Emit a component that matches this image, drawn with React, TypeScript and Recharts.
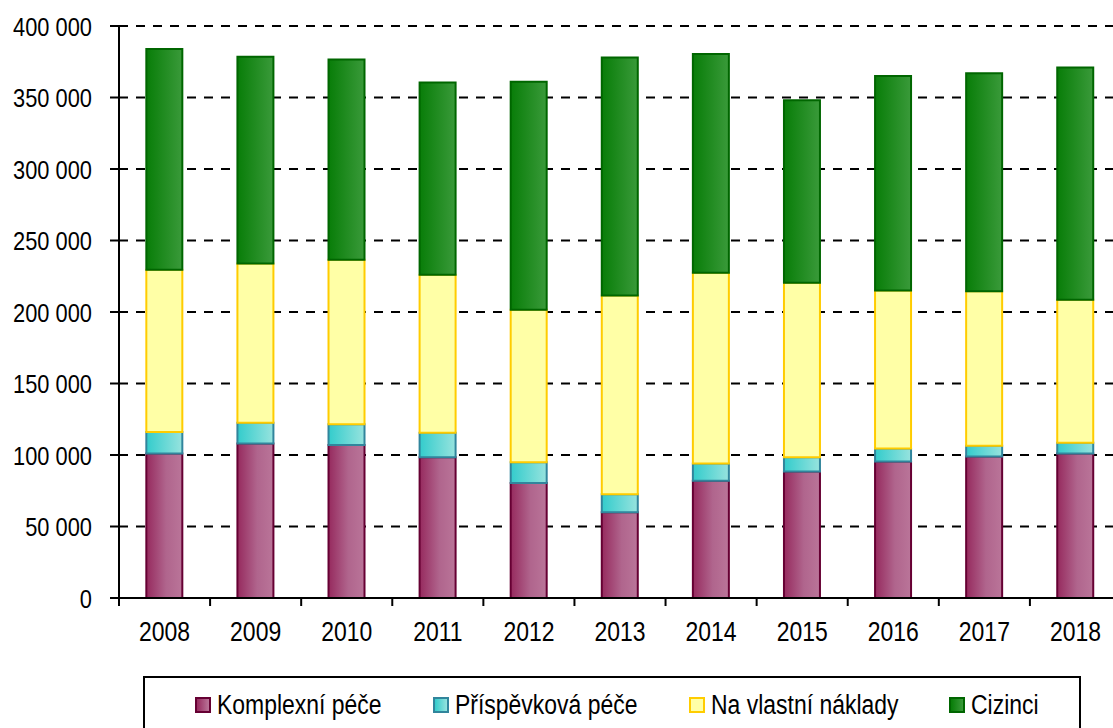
import { BarChart, Bar, XAxis, YAxis, CartesianGrid } from 'recharts';

const years = ['2008', '2009', '2010', '2011', '2012', '2013', '2014', '2015', '2016', '2017', '2018'];
const komplexni = [101000, 108000, 107000, 98500, 80500, 60000, 82000, 88500, 95500, 99000, 101000];
const prispevkova = [15000, 14500, 14500, 17000, 14500, 12500, 12000, 10000, 9000, 7500, 7500];
const vlastni = [113500, 111500, 115000, 110500, 106500, 139000, 133500, 122000, 110500, 108000, 100000];
const cizinci = [154500, 144500, 140000, 134500, 159500, 166500, 153000, 127500, 150000, 152500, 162500];
const yTicks = [0, 50000, 100000, 150000, 200000, 250000, 300000, 350000, 400000];

const data = years.map((year, i) => ({
  year,
  komplexni: komplexni[i],
  prispevkova: prispevkova[i],
  vlastni: vlastni[i],
  cizinci: cizinci[i],
}));

const series = [
  { key: 'komplexni', name: 'Komplexní péče', fill: 'url(#gKomplex)', stroke: '#660033', swatch: 'linear-gradient(90deg,#962a5e,#ba7599)', left: 195 },
  { key: 'prispevkova', name: 'Příspěvková péče', fill: 'url(#gPrisp)', stroke: '#31859c', swatch: 'linear-gradient(90deg,#33cccc,#97e3de)', left: 433 },
  { key: 'vlastni', name: 'Na vlastní náklady', fill: '#ffffa6', stroke: '#ffcc00', swatch: '#ffffa6', left: 689 },
  { key: 'cizinci', name: 'Cizinci', fill: 'url(#gCizinci)', stroke: '#006600', swatch: 'linear-gradient(90deg,#087d08,#3a9a3a)', left: 949 },
];

const font = '"Liberation Sans", Arial, sans-serif';

const fmt = (v: number) => (v === 0 ? '0' : `${v / 1000} 000`);

// category label plus a tick mark on the left edge of each band
const YearTick = (props: any) => {
  const { x, y, payload } = props;
  const half = payload?.offset ?? 0;
  return (
    <g>
      <line x1={x - half} y1={y} x2={x - half} y2={y + 8} stroke="#000" strokeWidth={2} />
      <text
        transform={`translate(${x},${y + 43}) scale(0.82,1)`}
        textAnchor="middle"
        fontSize={28}
        fontFamily={font}
        fill="#000"
      >
        {payload.value}
      </text>
    </g>
  );
};

const ValueTick = (props: any) => {
  const { x, y, payload } = props;
  return (
    <text
      transform={`translate(${x},${y + 9.5}) scale(0.84,1)`}
      textAnchor="end"
      fontSize={26}
      fontFamily={font}
      fill="#000"
    >
      {fmt(payload.value)}
    </text>
  );
};

export default function App() {
  return (
    <div
      style={{
        position: 'absolute',
        left: 0,
        top: 0,
        width: 1113,
        height: 728,
        overflow: 'hidden',
        background: '#fff',
        fontFamily: font,
      }}
    >
      <BarChart
        width={1125}
        height={728}
        data={data}
        barCategoryGap="30%"
        margin={{ top: 26, right: 4, bottom: 70, left: 0 }}
      >
        <defs>
          <linearGradient id="gKomplex" x1="0" y1="0" x2="1" y2="0">
            <stop offset="0%" stopColor="#962a5e" />
            <stop offset="55%" stopColor="#b0658d" />
            <stop offset="100%" stopColor="#ba7599" />
          </linearGradient>
          <linearGradient id="gPrisp" x1="0" y1="0" x2="1" y2="0">
            <stop offset="0%" stopColor="#33cccc" />
            <stop offset="100%" stopColor="#97e3de" />
          </linearGradient>
          <linearGradient id="gCizinci" x1="0" y1="0" x2="1" y2="0">
            <stop offset="0%" stopColor="#087d08" />
            <stop offset="100%" stopColor="#3a9a3a" />
          </linearGradient>
        </defs>
        <CartesianGrid vertical={false} stroke="#000" strokeWidth={2} strokeDasharray="9 8" />
        <XAxis
          dataKey="year"
          height={60}
          tickLine={false}
          tickSize={0}
          tickMargin={0}
          axisLine={{ stroke: '#000', strokeWidth: 2 }}
          tick={<YearTick />}
          interval={0}
        />
        <YAxis
          width={119}
          domain={[0, 400000]}
          ticks={yTicks}
          interval={0}
          tickSize={9}
          tickMargin={18}
          tickLine={{ stroke: '#000', strokeWidth: 2 }}
          axisLine={{ stroke: '#000', strokeWidth: 2 }}
          tick={<ValueTick />}
        />
        {series.map((s) => (
          <Bar
            key={s.key}
            dataKey={s.key}
            name={s.name}
            stackId="a"
            fill={s.fill}
            stroke={s.stroke}
            strokeWidth={2}
            isAnimationActive={false}
          />
        ))}
      </BarChart>
      <div
        style={{
          position: 'absolute',
          left: 143,
          top: 676,
          width: 938,
          height: 60,
          border: '2px solid #000',
          boxSizing: 'border-box',
        }}
      />
      {series.map((s) => (
        <div
          key={s.key}
          style={{
            position: 'absolute',
            left: s.left,
            top: 689,
            height: 32,
            display: 'flex',
            alignItems: 'center',
            whiteSpace: 'nowrap',
          }}
        >
          <span
            style={{
              display: 'inline-block',
              width: 12,
              height: 12,
              background: s.swatch,
              border: `2px solid ${s.stroke}`,
              marginRight: 6,
            }}
          />
          <span
            style={{
              display: 'inline-block',
              fontSize: 27,
              lineHeight: '32px',
              color: '#000',
              transform: 'scaleX(0.85)',
              transformOrigin: 'left center',
            }}
          >
            {s.name}
          </span>
        </div>
      ))}
    </div>
  );
}
